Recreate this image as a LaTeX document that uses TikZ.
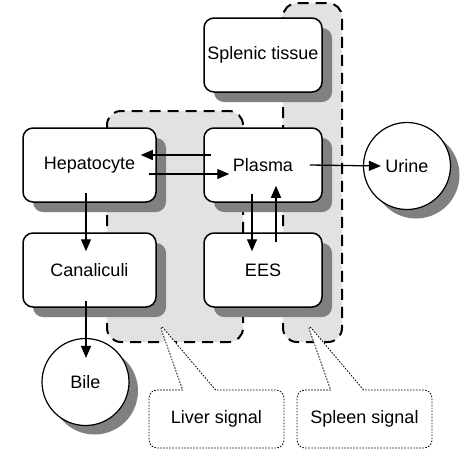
\documentclass[tikz,border=0pt]{standalone}
\usepackage{fontspec}
\setmainfont{Liberation Sans}
\usetikzlibrary{arrows.meta,shadows,shapes.callouts}
\definecolor{regiongray}{HTML}{E2E2E2}
\definecolor{shadowgray}{HTML}{808080}

\begin{document}
\begin{tikzpicture}[x=1pt,y=-1pt,font=\fontsize{18}{21}\selectfont,
    compartment/.style={draw,line width=1.5pt,fill=white,rounded corners=10pt,
      minimum height=74pt,
      drop shadow={shadow xshift=10pt,shadow yshift=-10pt,fill=shadowgray,opacity=1}},
    sink/.style={draw,line width=1.2pt,fill=white,circle,minimum size=87pt,inner sep=0pt,
      drop shadow={shadow xshift=9pt,shadow yshift=-9pt,fill=shadowgray,opacity=1}},
    region/.style={fill=regiongray,line width=2pt,dash pattern=on 11pt off 7pt,
      rounded corners=14pt},
    signal/.style={rectangle callout,draw,fill=white,line width=0.8pt,
      dash pattern=on 1.6pt off 1.4pt,rounded corners=8pt,
      minimum width=135pt,minimum height=58pt,callout pointer width=33pt},
    flow/.style={line width=1.3pt,-{Triangle[length=12pt,width=10pt]}}]
    \useasboundingbox (0,0) rectangle (468,461);
    % signal regions
    \draw[region] (107,111) rectangle (243,342);
    \draw[region] (283,3) rectangle (342,342);
    % compartments
    \node[compartment,minimum width=118pt] (splenic) at (263,55) {Splenic tissue};
    \node[compartment,minimum width=133pt] (hepa) at (89.5,165) {Hepatocyte};
    \node[compartment,minimum width=118pt] (plasma) at (263,165) {Plasma};
    \node[compartment,minimum width=133pt] (canal) at (89.5,270) {Canaliculi};
    \node[compartment,minimum width=118pt] (ees) at (263,270) {EES};
    \node[sink] (urine) at (407,166) {Urine};
    \node[sink] (bile) at (85.5,382) {Bile};
    % transfers
    \draw[flow] ([xshift=8pt,yshift=10pt]plasma.west) -- ([xshift=-16pt,yshift=10pt]hepa.east);
    \draw[flow] ([xshift=-8pt,yshift=-9pt]hepa.east) -- ([xshift=26pt,yshift=-9pt]plasma.west);
    \draw[flow] ([xshift=-13pt]plasma.east) -- ([xshift=18pt]urine.west);
    \draw[flow] ([xshift=-3.5pt,yshift=10pt]hepa.south) -- ([xshift=-3.5pt,yshift=-19pt]canal.north);
    \draw[flow] ([xshift=-3.5pt,yshift=7pt]canal.south) -- ([xshift=0.5pt,yshift=-20pt]bile.north);
    \draw[flow] ([xshift=-11pt,yshift=9pt]plasma.south) -- ([xshift=-11pt,yshift=-19pt]ees.north);
    \draw[flow] ([xshift=13pt,yshift=-10pt]ees.north) -- ([xshift=13pt,yshift=17pt]plasma.south);
    % signal labels
    \coordinate (livertip) at (159,323);
    \coordinate (spleentip) at (307,323);
    \node[signal,callout absolute pointer={(livertip)}] (liversig) at (216.5,419) {Liver signal};
    \node[signal,callout absolute pointer={(spleentip)}] (spleensig) at (364.5,419) {Spleen signal};
  \end{tikzpicture}
\end{document}
